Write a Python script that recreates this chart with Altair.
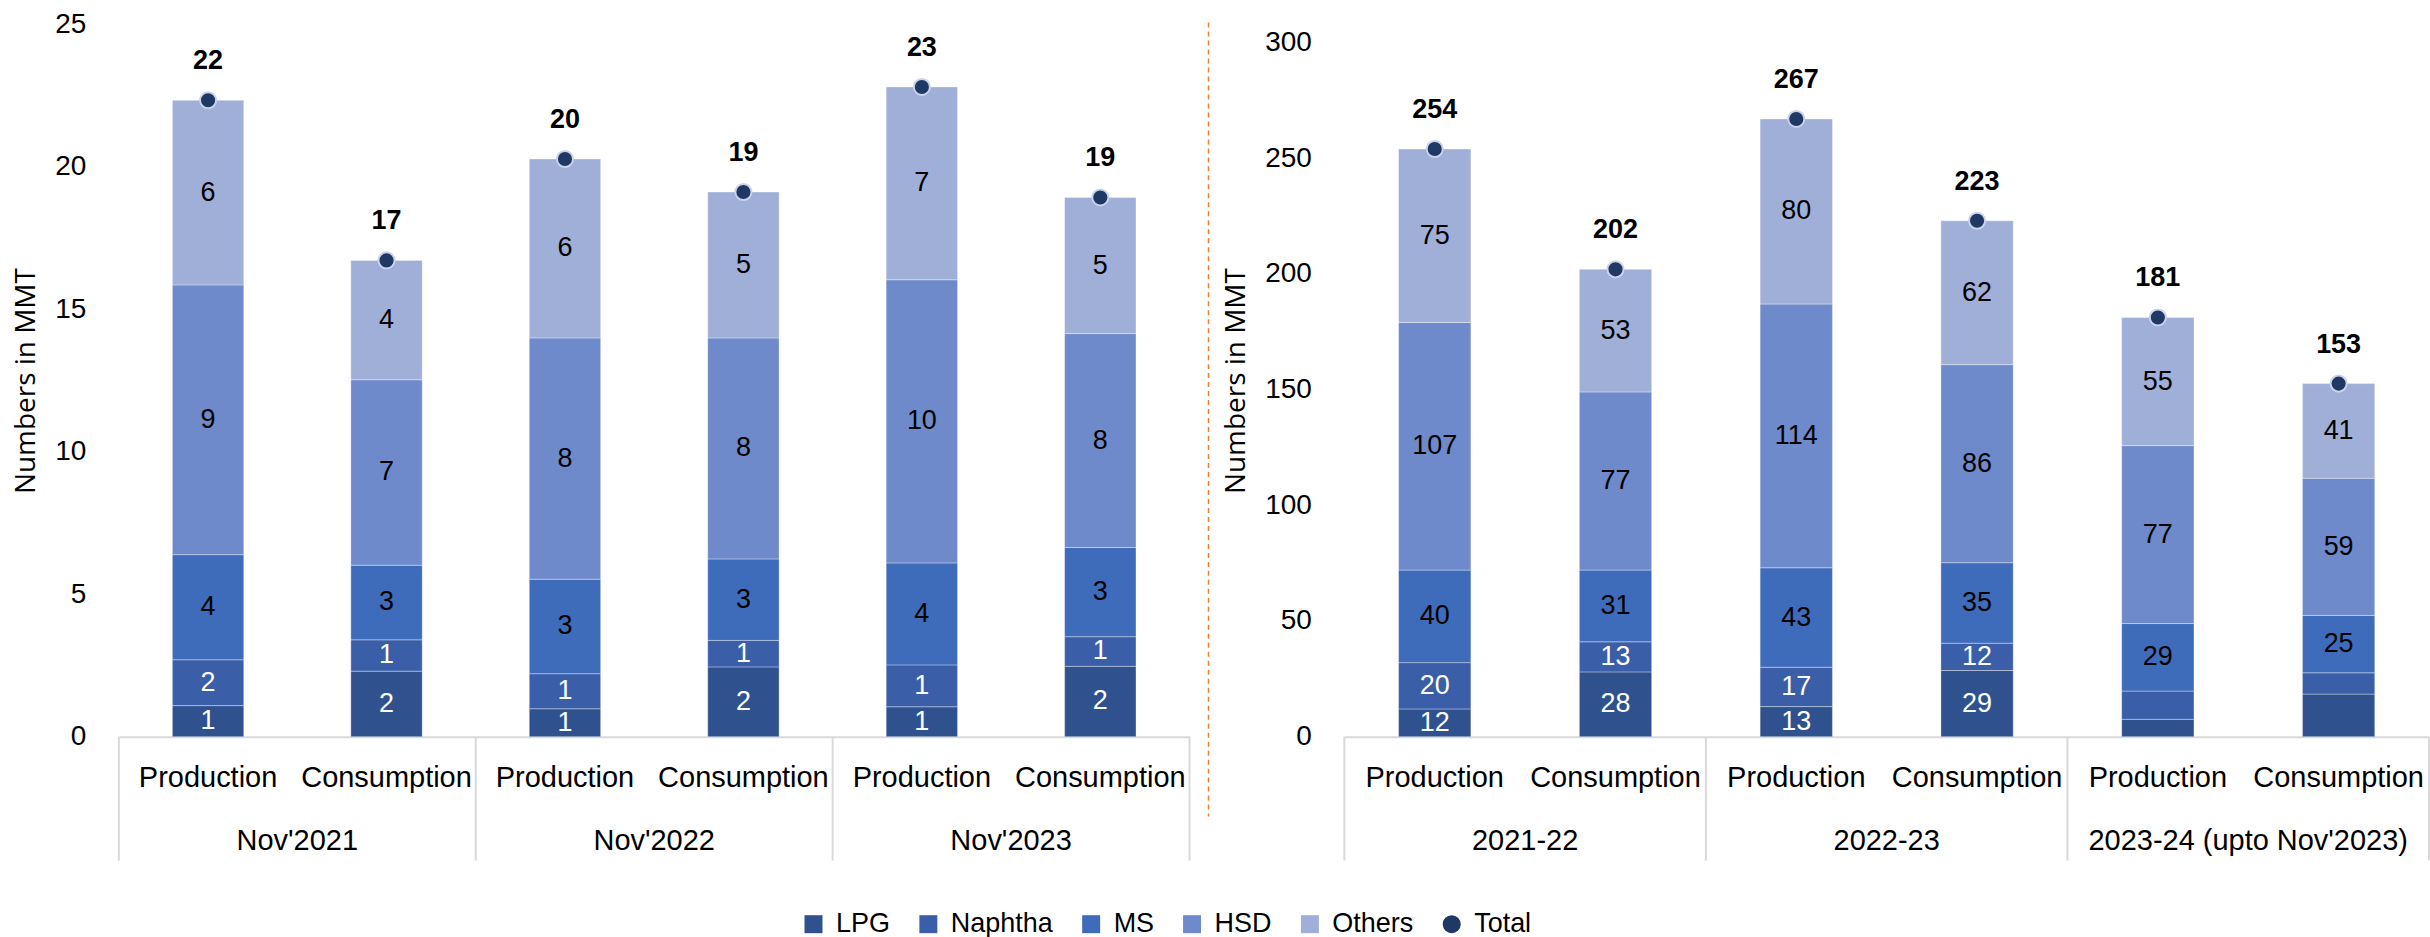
import altair as alt
import pandas as pd

FONT = "Liberation Sans"
TITLE_FONT = "Open Sans"

PRODUCTS = ["LPG", "Naphtha", "MS", "HSD", "Others"]
SERIES = PRODUCTS + ["Total"]
KINDS = ["Production", "Consumption"]
COLORS = ["#2F528F", "#3A5EA8", "#3E6CBA", "#6E8ACA", "#A0AFD8", "#1F3864"]
LIGHT_INK = ["LPG", "Naphtha"]

# November of each year, MMT; per period: Production, Consumption
month_periods = ["Nov'2021", "Nov'2022", "Nov'2023"]
month_lpg = [1.09, 2.30, 0.98, 2.45, 1.05, 2.47]
month_naphtha = [1.61, 1.10, 1.23, 0.93, 1.47, 1.04]
month_ms = [3.69, 2.62, 3.32, 2.86, 3.58, 3.13]
month_hsd = [9.47, 6.51, 8.47, 7.76, 9.94, 7.51]
month_others = [6.48, 4.19, 6.28, 5.12, 6.77, 4.78]

# Financial years, MMT; per period: Production, Consumption
year_periods = ["2021-22", "2022-23", "2023-24 (upto Nov'2023)"]
year_lpg = [12, 28, 13, 28.6, 7.5, 18.4]
year_naphtha = [20, 13, 17, 11.8, 12.2, 9.2]
year_ms = [40, 31, 43, 34.8, 29.2, 24.8]
year_hsd = [107, 77, 114, 85.6, 76.9, 59.3]
year_others = [75, 53, 80, 62.2, 55.4, 40.9]

# segments drawn without a value label
year_unlabelled = [("2023-24 (upto Nov'2023)", "LPG"), ("2023-24 (upto Nov'2023)", "Naphtha")]

H = 713


def build_frames(periods, series, unlabelled):
    seg_rows, tot_rows = [], []
    for i, period in enumerate(periods):
        for j, kind in enumerate(KINDS):
            k = 2 * i + j
            key = f"{period}|{kind}"
            base = 0.0
            for product, vals in zip(PRODUCTS, series):
                v = float(vals[k])
                seg_rows.append(dict(key=key, period=period, kind=kind, product=product,
                                     value=v, start=base, end=base + v, mid=base + v / 2,
                                     show=(period, product) not in unlabelled))
                base += v
            tot_rows.append(dict(key=key, period=period, kind=kind, product="Total", value=base))
    return pd.DataFrame(seg_rows), pd.DataFrame(tot_rows)


def panel(periods, series, ymax, ticks, width, unlabelled=(), divider=False):
    seg, tot = build_frames(periods, series, unlabelled)
    keys = list(tot["key"])
    band = alt.Scale(paddingInner=0.6, paddingOuter=0.3)
    ytitle = "Numbers in MMT"
    yscale = alt.Scale(domain=[0, ymax], nice=False, zero=True)

    x_axis = alt.X("key:N", sort=keys, title=None, scale=band,
                   axis=alt.Axis(labelExpr="split(datum.label, '|')[1]", labelAngle=0,
                                 ticks=False, domainColor="#D9D9D9", domainWidth=2,
                                 labelPadding=27, labelFontSize=29, labelColor="#000000",
                                 labelFont=FONT))
    x_plain = alt.X("key:N", sort=keys, title=None, scale=band)

    def y_enc(field):
        return alt.Y(field, title=ytitle, scale=yscale,
                     axis=alt.Axis(values=ticks, grid=False, domain=False, ticks=False,
                                   labelFontSize=28, labelFont=FONT, labelColor="#000000",
                                   labelPadding=33, titlePadding=14, titleFont=TITLE_FONT,
                                   titleFontSize=28, titleFontWeight="normal",
                                   titleColor="#000000"))

    color = alt.Color("product:N", scale=alt.Scale(domain=SERIES, range=COLORS),
                      legend=alt.Legend(title=None))
    shape = alt.Shape("product:N",
                      scale=alt.Scale(domain=SERIES, range=["square"] * 5 + ["circle"]),
                      legend=alt.Legend(title=None))

    bars = alt.Chart(seg).mark_bar(stroke="#FFFFFF", strokeWidth=1, strokeOpacity=0.35).encode(
        x=x_axis, y=y_enc("end:Q"), y2="start:Q", color=color)

    seg_text = alt.Chart(seg).transform_filter("datum.show")
    light = seg_text.transform_filter(alt.FieldOneOfPredicate(field="product", oneOf=LIGHT_INK)).mark_text(
        font=FONT, fontSize=27, color="#FFFFFF", baseline="middle").encode(
        x=x_plain, y=y_enc("mid:Q"), text=alt.Text("value:Q", format=".0f"))
    dark = seg_text.transform_filter(
        {"not": alt.FieldOneOfPredicate(field="product", oneOf=LIGHT_INK)}).mark_text(
        font=FONT, fontSize=27, color="#000000", baseline="middle").encode(
        x=x_plain, y=y_enc("mid:Q"), text=alt.Text("value:Q", format=".0f"))

    dots = alt.Chart(tot).mark_point(filled=True, size=260, opacity=1, stroke="#C9D3EC",
                                     strokeWidth=2).encode(
        x=x_plain, y=y_enc("value:Q"), color=color, shape=shape)
    tot_text = alt.Chart(tot).mark_text(font=FONT, fontSize=27, fontWeight="bold",
                                        color="#000000", dy=-39, baseline="middle").encode(
        x=x_plain, y=y_enc("value:Q"), text=alt.Text("value:Q", format=".0f"))

    data_layer = alt.layer(bars, light, dark, dots, tot_text)

    groups = pd.DataFrame({"period": periods})

    def gx(pos):
        return alt.X("period:N", sort=periods, axis=None,
                     scale=alt.Scale(paddingInner=0, paddingOuter=0), bandPosition=pos)

    seps = alt.Chart(groups).mark_rule(color="#D9D9D9", strokeWidth=2).encode(
        x=gx(0), y=alt.value(H), y2=alt.value(H + 124))
    end_sep = alt.Chart(groups.tail(1)).mark_rule(color="#D9D9D9", strokeWidth=2).encode(
        x=gx(1), y=alt.value(H), y2=alt.value(H + 124))
    group_text = alt.Chart(groups).mark_text(font=FONT, fontSize=29, color="#000000",
                                             baseline="middle").encode(
        x=gx(0.5), y=alt.value(H + 104), text="period:N")
    guide_parts = [seps, end_sep, group_text]
    if divider:
        guide_parts.append(
            alt.Chart(pd.DataFrame({"d": [0]})).mark_rule(
                color="#ED7D31", strokeDash=[5, 4], strokeWidth=1.5).encode(
                x=alt.value(-136), y=alt.value(-2), y2=alt.value(H + 80)))
    guide_layer = alt.layer(*guide_parts)

    return alt.layer(data_layer, guide_layer).resolve_scale(x="independent").properties(
        width=width, height=H)


left = panel(month_periods, [month_lpg, month_naphtha, month_ms, month_hsd, month_others],
             25, [0, 5, 10, 15, 20, 25], 1072)
right = panel(year_periods, [year_lpg, year_naphtha, year_ms, year_hsd, year_others],
              307.8, [0, 50, 100, 150, 200, 250, 300], 1086,
              unlabelled=year_unlabelled, divider=True)

chart = alt.hconcat(left, right, spacing=155, bounds="flush").resolve_scale(
    color="shared", shape="shared").resolve_legend(color="shared", shape="shared").properties(
    padding={"left": 12, "top": 10, "right": 0, "bottom": 0}
).configure_view(stroke=None).configure_legend(
    orient="none", legendX=682, legendY=887, direction="horizontal",
    labelFont=FONT, labelFontSize=27, labelColor="#000000", symbolSize=324,
    columnPadding=24, labelOffset=9, padding=0, symbolStrokeWidth=0
)

chart.save("out.html", embed_options={"renderer": "svg", "actions": False})
